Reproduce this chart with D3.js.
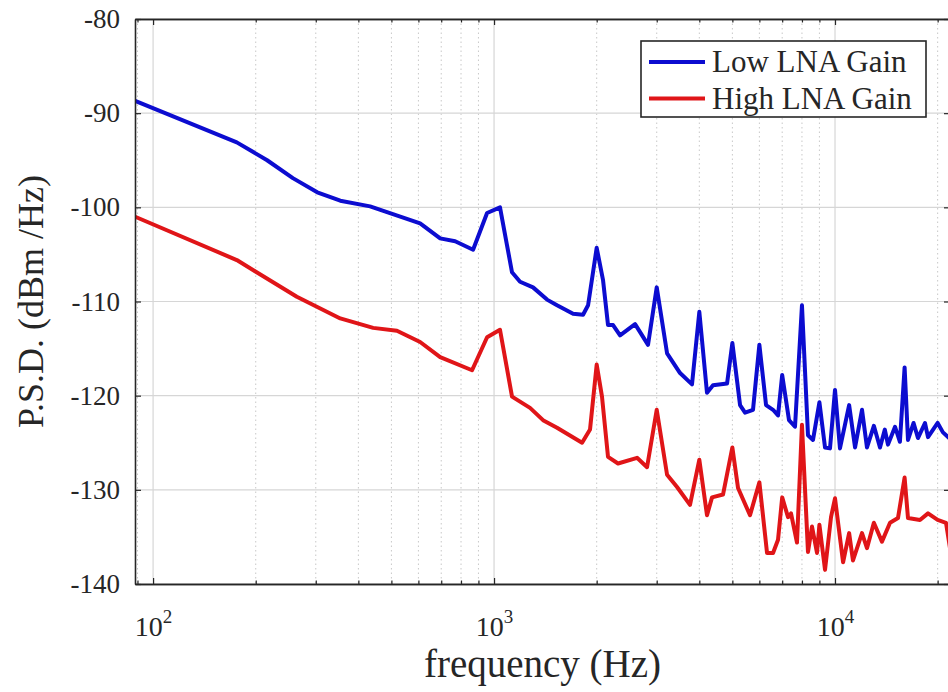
<!DOCTYPE html>
<html lang="en">
<head>
  <meta charset="UTF-8" />
  <title>PSD vs frequency</title>
  <script src="https://cdn.jsdelivr.net/npm/d3@7/dist/d3.min.js"></script>
  <style>
    body {
      margin: 0;
      background: #fff;
    }
    svg text {
      font-family: "Liberation Serif", "Times New Roman", serif;
      fill: #262626;
    }
  </style>
</head>
<body>
  <div id="chart"></div>

  <script>
    // Low LNA gain trace (Hz, dBm/Hz)
    const freqLow = [88.6, 176, 216, 257, 303, 354, 433, 607, 695, 769, 868, 954, 1041,
      1129, 1192, 1301, 1430, 1530, 1705, 1824, 1887, 2000, 2087, 2159, 2234, 2342,
      2592, 2829, 3000, 3217, 3512, 3807, 4000, 4213, 4387, 4824, 5000, 5266, 5447,
      5748, 6000, 6277, 6580, 6806, 7000, 7330, 7633, 8000, 8332, 8619, 9000, 9348,
      9667, 10000, 10340, 11000, 11450, 12000, 12410, 13000, 13550, 14000, 14300,
      15000, 15500, 16000, 16370, 17000, 17510, 18360, 18740, 20000, 20730, 21740];
    const psdLow = [-88.7, -93.1, -95.0, -96.9, -98.4, -99.3, -99.9, -101.7, -103.3,
      -103.6, -104.5, -100.6, -100.0, -106.9, -107.9, -108.5, -109.8, -110.4, -111.3,
      -111.4, -110.4, -104.3, -107.7, -112.5, -112.5, -113.6, -112.4, -114.6, -108.5,
      -115.5, -117.6, -118.8, -111.1, -119.7, -118.9, -118.7, -114.4, -121.0, -121.8,
      -121.5, -114.6, -121.0, -121.5, -122.1, -117.8, -122.6, -123.3, -110.4, -124.2,
      -124.7, -120.7, -125.5, -125.6, -119.4, -125.6, -121.0, -125.5, -121.5, -125.5,
      -123.2, -125.5, -123.6, -125.2, -123.3, -124.9, -117.0, -124.7, -122.9, -124.5,
      -122.9, -124.4, -122.9, -123.9, -124.6];

    // High LNA gain trace (Hz, dBm/Hz)
    const freqHigh = [88.6, 176, 264, 354, 442, 519, 607, 695, 862, 954, 1041, 1129,
      1275, 1392, 1530, 1812, 1912, 2000, 2073, 2159, 2310, 2627, 2810, 3000, 3217,
      3441, 3756, 4000, 4213, 4358, 4694, 5000, 5195, 5633, 6000, 6319, 6580, 6806,
      7000, 7281, 7430, 7735, 8000, 8332, 8561, 8855, 9000, 9348, 9734, 10000, 10560,
      11000, 11290, 12000, 12410, 13000, 13730, 14500, 15300, 16000, 16370, 17750,
      18740, 20000, 21160, 21740];
    const psdHigh = [-101.0, -105.6, -109.5, -111.8, -112.8, -113.1, -114.3, -115.9,
      -117.3, -113.8, -113.0, -120.1, -121.3, -122.6, -123.4, -125.0, -123.6, -116.7,
      -120.1, -126.5, -127.2, -126.6, -127.6, -121.5, -128.4, -129.7, -131.6, -126.8,
      -132.7, -130.8, -130.5, -125.5, -129.8, -132.7, -129.2, -136.7, -136.7, -135.3,
      -130.8, -132.9, -132.5, -135.6, -123.1, -136.6, -133.9, -136.7, -133.7, -138.5,
      -132.9, -130.9, -137.7, -134.6, -137.5, -134.6, -136.2, -133.5, -135.5, -133.5,
      -133.0, -128.7, -133.0, -133.2, -132.5, -133.2, -133.5, -136.2];

    const seriesNames = ["Low LNA Gain", "High LNA Gain"];
    const seriesColors = ["#0c0cd0", "#e01518"];

    const yTicks = [-80, -90, -100, -110, -120, -130, -140];
    const xMajor = [100, 1000, 10000];
    const xExponents = ["2", "3", "4"];
    const xMinor = [90, 200, 300, 400, 500, 600, 700, 800, 900,
      2000, 3000, 4000, 5000, 6000, 7000, 8000, 9000, 20000];

    const width = 948;
    const height = 692;
    const margin = { top: 19, right: -2, bottom: 108, left: 135 };
    const axisColor = "#262626";

    const svg = d3.select("#chart")
      .append("svg")
      .attr("width", width)
      .attr("height", height);

    const x = d3.scaleLog()
      .domain([88.5, 21740])
      .range([margin.left, width - margin.right]);

    const y = d3.scaleLinear()
      .domain([-140, -80])
      .range([height - margin.bottom, margin.top]);

    const plotTop = y(-80), plotBottom = y(-140);
    const plotLeft = x.range()[0], plotRight = x.range()[1];

    svg.append("defs").append("clipPath")
      .attr("id", "plot-clip")
      .append("rect")
      .attr("x", plotLeft)
      .attr("y", plotTop)
      .attr("width", plotRight - plotLeft)
      .attr("height", plotBottom - plotTop);

    // grid
    const grid = svg.append("g");
    grid.selectAll(".minor-grid")
      .data(xMinor)
      .join("line")
      .attr("x1", d => x(d)).attr("x2", d => x(d))
      .attr("y1", plotTop).attr("y2", plotBottom)
      .attr("stroke", "#c8c8c8")
      .attr("stroke-width", 1)
      .attr("stroke-dasharray", "1.5,3");

    grid.selectAll(".major-grid")
      .data(xMajor)
      .join("line")
      .attr("x1", d => x(d)).attr("x2", d => x(d))
      .attr("y1", plotTop).attr("y2", plotBottom)
      .attr("stroke", "#d6d6d6")
      .attr("stroke-width", 1.2);

    grid.selectAll(".y-grid")
      .data(yTicks)
      .join("line")
      .attr("x1", plotLeft).attr("x2", plotRight)
      .attr("y1", d => y(d)).attr("y2", d => y(d))
      .attr("stroke", "#d6d6d6")
      .attr("stroke-width", 1.2);

    // traces
    const line = d3.line()
      .x(d => x(d.f))
      .y(d => y(d.v));

    const series = [
      freqLow.map((f, i) => ({ f, v: psdLow[i] })),
      freqHigh.map((f, i) => ({ f, v: psdHigh[i] }))
    ];

    svg.append("g")
      .attr("clip-path", "url(#plot-clip)")
      .selectAll("path")
      .data(series)
      .join("path")
      .attr("d", line)
      .attr("fill", "none")
      .attr("stroke", (d, i) => seriesColors[i])
      .attr("stroke-width", 4)
      .attr("stroke-linejoin", "round")
      .attr("stroke-linecap", "round");

    // axes (ticks point inward, box on all four sides)
    function styleAxis(g) {
      g.select(".domain").attr("stroke", axisColor).attr("stroke-width", 1.6);
      g.selectAll(".tick line").attr("stroke", axisColor).attr("stroke-width", 1.2);
    }

    svg.append("g")
      .attr("transform", `translate(0, ${plotBottom})`)
      .call(d3.axisBottom(x).tickValues(xMinor).tickSize(-3.5).tickSizeOuter(0).tickFormat(""))
      .call(styleAxis);

    const xAxisG = svg.append("g")
      .attr("transform", `translate(0, ${plotBottom})`)
      .call(d3.axisBottom(x).tickValues(xMajor).tickSize(-6).tickSizeOuter(0).tickFormat(""))
      .call(styleAxis);

    const xLabels = xAxisG.selectAll(".tick")
      .append("text")
      .attr("y", 52)
      .attr("text-anchor", "middle")
      .attr("font-size", 28)
      .attr("fill", axisColor);
    xLabels.append("tspan").text("10");
    xLabels.append("tspan")
      .attr("font-size", 19)
      .attr("dy", -13)
      .text((d, i) => xExponents[i]);

    svg.append("g")
      .attr("transform", `translate(0, ${plotTop})`)
      .call(d3.axisTop(x).tickValues(xMinor).tickSize(-3.5).tickSizeOuter(0).tickFormat(""))
      .call(styleAxis);
    svg.append("g")
      .attr("transform", `translate(0, ${plotTop})`)
      .call(d3.axisTop(x).tickValues(xMajor).tickSize(-6).tickSizeOuter(0).tickFormat(""))
      .call(styleAxis);

    svg.append("g")
      .attr("transform", `translate(${plotLeft}, 0)`)
      .call(d3.axisLeft(y).tickValues(yTicks).tickSize(-6).tickSizeOuter(0).tickPadding(15)
        .tickFormat(d => String(d)))
      .call(styleAxis)
      .call(g => g.selectAll(".tick text")
        .attr("font-size", 27)
        .attr("fill", axisColor)
        .attr("font-family", "Liberation Serif, Times New Roman, serif"));

    svg.append("g")
      .attr("transform", `translate(${plotRight}, 0)`)
      .call(d3.axisRight(y).tickValues(yTicks).tickSize(-6).tickSizeOuter(0).tickFormat(""))
      .call(styleAxis);

    // axis titles
    svg.append("text")
      .attr("x", (plotLeft + plotRight) / 2)
      .attr("y", 677)
      .attr("text-anchor", "middle")
      .attr("font-size", 39)
      .text("frequency (Hz)");

    svg.append("text")
      .attr("transform", `translate(43, ${(plotTop + plotBottom) / 2}) rotate(-90)`)
      .attr("text-anchor", "middle")
      .attr("font-size", 36)
      .text("P.S.D. (dBm /Hz)");

    // legend
    const legend = svg.append("g").attr("transform", "translate(641, 41)");
    legend.append("rect")
      .attr("width", 285)
      .attr("height", 76)
      .attr("fill", "#fff")
      .attr("stroke", "#262626")
      .attr("stroke-width", 1.6);

    const items = legend.selectAll(".item")
      .data(seriesNames)
      .join("g")
      .attr("transform", (d, i) => `translate(0, ${21 + i * 36.5})`);
    items.append("line")
      .attr("x1", 8).attr("x2", 64)
      .attr("stroke", (d, i) => seriesColors[i])
      .attr("stroke-width", 4);
    items.append("text")
      .attr("x", 71)
      .attr("y", 10)
      .attr("font-size", 31)
      .text(d => d);
  </script>
</body>
</html>
